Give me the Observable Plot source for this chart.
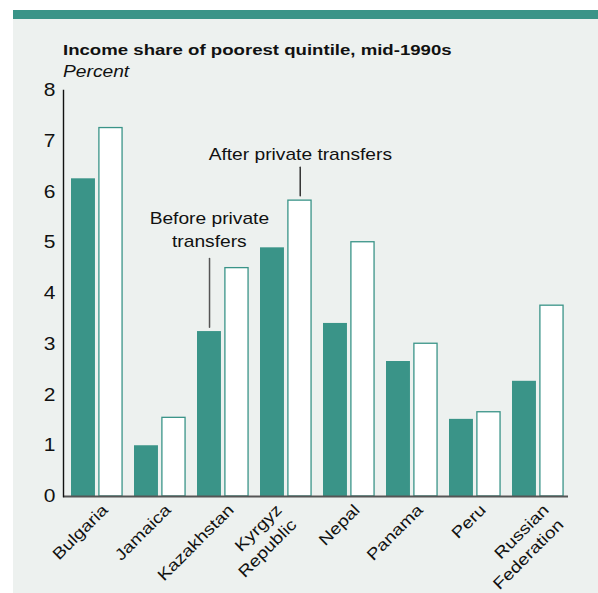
<!DOCTYPE html>
<html>
<head>
<meta charset="utf-8">
<script src="https://cdn.jsdelivr.net/npm/d3@7"></script>
<script src="https://cdn.jsdelivr.net/npm/@observablehq/plot@0.6"></script>
<style>
  html, body { margin: 0; padding: 0; background: #ffffff; }
  body { width: 598px; height: 593px; position: relative; overflow: hidden; font-family: "Liberation Sans", Arial, sans-serif; color: #111; }
  #panel { position: absolute; left: 13px; top: 10px; right: 0; bottom: 0; background: #edf1ef; border-top: 9px solid #3a9488; }
  #title { position: absolute; left: 63px; top: 40px; font-size: 15.5px; line-height: 20px; font-weight: bold; white-space: nowrap; transform: scaleX(1.2); transform-origin: 0 0; }
  #subtitle { position: absolute; left: 63px; top: 62px; font-size: 16px; line-height: 20px; font-style: italic; white-space: nowrap; transform: scaleX(1.2); transform-origin: 0 0; }
  #chart { position: absolute; left: 0; top: 80px; }
  #chart svg { overflow: visible; }
</style>
</head>
<body>
<div id="panel"></div>
<div id="title">Income share of poorest quintile, mid-1990s</div>
<div id="subtitle">Percent</div>
<div id="chart"></div>
<script>
const countries = ["Bulgaria", "Jamaica", "Kazakhstan", "Kyrgyz Republic", "Nepal", "Panama", "Peru", "Russian Federation"];
const tickLabels = ["Bulgaria", "Jamaica", "Kazakhstan", "Kyrgyz\nRepublic", "Nepal", "Panama", "Peru", "Russian\nFederation"];
const beforeTransfers = [6.26, 1.0, 3.25, 4.9, 3.41, 2.66, 1.52, 2.27];
const afterTransfers = [7.26, 1.55, 4.5, 5.83, 5.01, 3.01, 1.66, 3.76];
const yTicks = [0, 1, 2, 3, 4, 5, 6, 7, 8];
const annotationBefore = {country: "Kazakhstan", text: "Before private\ntransfers"};
const annotationAfter = {country: "Kyrgyz Republic", text: "After private transfers"};

const teal = "#3a9488";
const stretch = 1.2;
const beforeRows = countries.map((c, i) => ({country: c, value: beforeTransfers[i]}));
const afterRows = countries.map((c, i) => ({country: c, value: afterTransfers[i]}));
const labelRows = countries.map((c, i) => ({country: c, label: tickLabels[i]}));
const valueOf = (rows, c) => rows.find(r => r.country === c).value;
const annBefore = [{...annotationBefore, value: valueOf(beforeRows, annotationBefore.country)}];
const annAfter = [{...annotationAfter, value: valueOf(afterRows, annotationAfter.country)}];
const lineShape = {draw(context, l) { context.moveTo(0, 0); context.lineTo(0, -l); }};

const chart = Plot.plot({
  width: 598,
  height: 513,
  marginLeft: 63,
  marginRight: 30,
  marginTop: 10,
  marginBottom: 97,
  style: {background: "transparent", fontFamily: "Liberation Sans, Arial, sans-serif", fontSize: "17px", color: "#111", overflow: "visible"},
  x: {domain: countries, paddingInner: 0.18, paddingOuter: 0.098, align: 0.648, round: false, axis: null},
  y: {domain: [0, 8], axis: null},
  marks: [
    Plot.barY(beforeRows, {x: "country", y: "value", fill: teal, insetLeft: 0, insetRight: 27.7}),
    Plot.barY(afterRows, {x: "country", y: "value", fill: "#ffffff", stroke: teal, strokeWidth: 1.3, insetLeft: 27.9, insetRight: 0.6}),
    Plot.ruleY([0], {stroke: "#555", strokeWidth: 2}),
    Plot.frame({anchor: "left", stroke: "#111", strokeWidth: 1.4}),
    Plot.axisY({ticks: yTicks, label: null, tickSize: 0, tickPadding: 8, tickFormat: d => String(d), fontSize: 17.5, fill: "#111"}),
    Plot.text(labelRows.filter(d => d.country !== "Kyrgyz Republic"), {x: "country", text: "label", frameAnchor: "bottom", rotate: -45, textAnchor: "end", lineAnchor: "top", lineHeight: 1.3, dx: 1, dy: 4, fontSize: 16, fill: "#111"}),
    Plot.text(labelRows.filter(d => d.country === "Kyrgyz Republic"), {x: "country", text: "label", frameAnchor: "bottom", rotate: -45, textAnchor: "end", lineAnchor: "top", lineHeight: 1.3, dx: -14, dy: 4, fontSize: 16, fill: "#111"}),
    Plot.vector(annBefore, {x: "country", y: "value", dx: -13.8, dy: -4.3, length: 68.7, rotate: 0, anchor: "start", shape: lineShape, stroke: "#555", strokeWidth: 1.5}),
    Plot.vector(annAfter, {x: "country", y: "value", dx: 13.9, dy: -5, length: 28.3, rotate: 0, anchor: "start", shape: lineShape, stroke: "#333", strokeWidth: 1.5}),
    Plot.text(annBefore, {x: "country", y: "value", text: "text", dx: -14, dy: -84.3, lineAnchor: "bottom", lineHeight: 1.48, fontSize: 16, fill: "#111"}),
    Plot.text(annAfter, {x: "country", y: "value", text: "text", dx: 14, dy: -41, lineAnchor: "bottom", fontSize: 16, fill: "#111"})
  ]
});

// Wide typeface, as in the reference artwork: widen glyphs along each text's own direction
chart.querySelectorAll("text").forEach(t => {
  const tr = t.getAttribute("transform");
  if (tr && /translate\(/.test(tr)) {
    t.setAttribute("transform", `${tr} scale(${stretch},1)`);
  } else {
    const x = +(t.getAttribute("x") || 0), y = +(t.getAttribute("y") || 0);
    t.setAttribute("transform", `${tr || ""} translate(${x},${y}) scale(${stretch},1) translate(${-x},${-y})`);
  }
});
document.getElementById("chart").appendChild(chart);
</script>
</body>
</html>
